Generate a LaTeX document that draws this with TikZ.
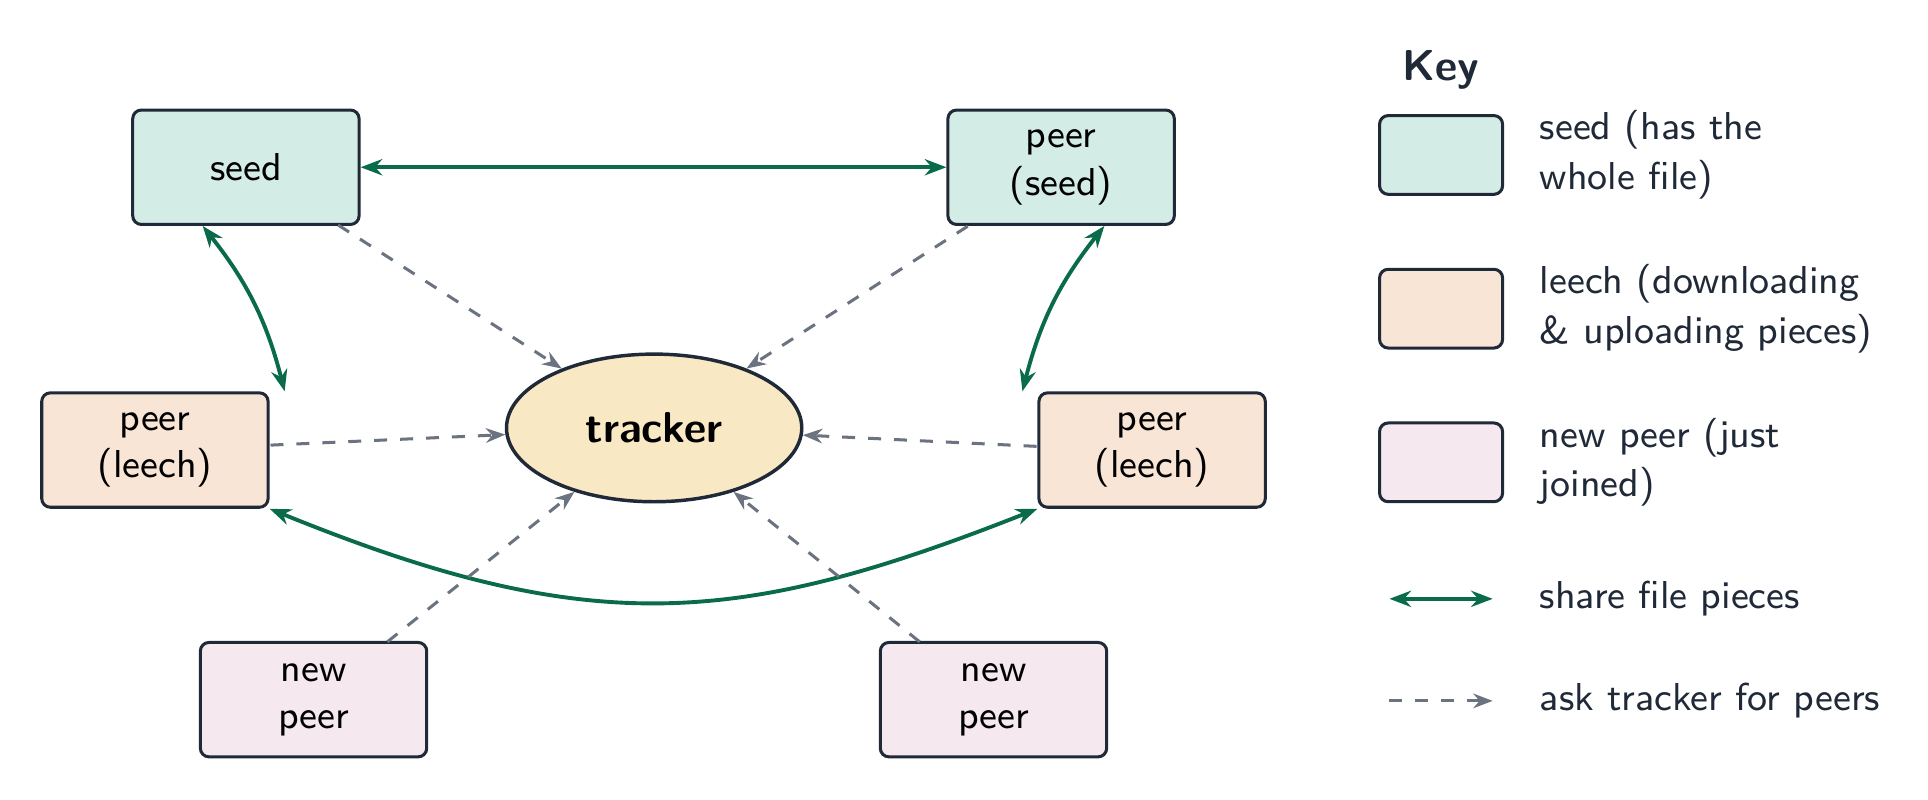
\documentclass[tikz,border=0pt]{standalone}
\usetikzlibrary{arrows.meta,shapes.geometric}
\renewcommand\familydefault{\sfdefault}
\definecolor{ink}{HTML}{1F2937}
\definecolor{seedc}{HTML}{D3EDE6}
\definecolor{leechc}{HTML}{F8E5D6}
\definecolor{newc}{HTML}{F5E8EF}
\definecolor{trk}{HTML}{F9E8C4}
\definecolor{grn}{HTML}{0A6B4A}
\definecolor{gry}{HTML}{6B7280}
\begin{document}
\begin{tikzpicture}[x=0.01cm,y=-0.01cm,
 box/.style={draw=ink,line width=0.7pt,rounded corners=2pt,minimum width=1.84cm,minimum height=0.93cm,align=center,font=\fontsize{9}{11}\selectfont},
 kbox/.style={draw=ink,line width=0.7pt,rounded corners=2pt,minimum width=1cm,minimum height=0.64cm},
 ktxt/.style={anchor=west,align=left,text=ink,font=\fontsize{9}{11.5}\selectfont},
 share/.style={grn,line width=0.9pt,{Stealth[length=5pt]}-{Stealth[length=5pt]}},
 ask/.style={gry,line width=0.7pt,dashed,-{Stealth[length=4.5pt]}}]
\useasboundingbox (0,0) rectangle (1568,650);
\node[box,fill=seedc] (s) at (200,136) {seed};
\node[box,fill=seedc] (ps) at (863,136) {peer\\(seed)};
\node[box,fill=leechc] (ll) at (126,366) {peer\\(leech)};
\node[box,fill=leechc] (lr) at (937,366) {peer\\(leech)};
\node[draw=ink,line width=0.8pt,fill=trk,ellipse,minimum width=2.4cm,minimum height=1.2cm,font=\fontsize{10}{12}\selectfont\bfseries] (t) at (532,348) {tracker};
\node[box,fill=newc] (n1) at (255,569) {new\\peer};
\node[box,fill=newc] (n2) at (808,569) {new\\peer};
\draw[share] (s.east) -- (ps.west);
\draw[share] ([xshift=-10]s.south) to[bend left=12] ([xshift=30]ll.north);
\draw[share] ([xshift=10]ps.south) to[bend right=12] ([xshift=-30]lr.north);
\draw[share] (ll.south east) .. controls (480,520) and (600,510) .. (lr.south west);
\draw[ask] (275,183) -- (t);
\draw[ask] (787,184) -- (t);
\draw[ask] (220,362) -- (t);
\draw[ask] (843,363) -- (t);
\draw[ask] (315,522) -- (t);
\draw[ask] (748,522) -- (t);
\node[anchor=west,text=ink,font=\fontsize{10}{12}\selectfont\bfseries] (k) at (1128,57) {Key};
\node[kbox,fill=seedc] (k1) at (1172,126) {};
\node[kbox,fill=leechc] (k2) at (1172,251) {};
\node[kbox,fill=newc] (k3) at (1172,376) {};
\node[ktxt] (t1) at (1240,126) {seed (has the\\whole file)};
\node[ktxt] (t2) at (1240,251) {leech (downloading\\\& uploading pieces)};
\node[ktxt] (t3) at (1240,376) {new peer (just\\joined)};
\coordinate (a1) at (1130,487); \coordinate (a2) at (1214,487);
\coordinate (b1) at (1130,570); \coordinate (b2) at (1214,570);
\draw[share] (a1) -- (a2);
\draw[ask] (b1) -- (b2);
\node[ktxt] (t4) at (1240,487) {share file pieces};
\node[ktxt] (t5) at (1240,570) {ask tracker for peers};
\end{tikzpicture}
\end{document}
